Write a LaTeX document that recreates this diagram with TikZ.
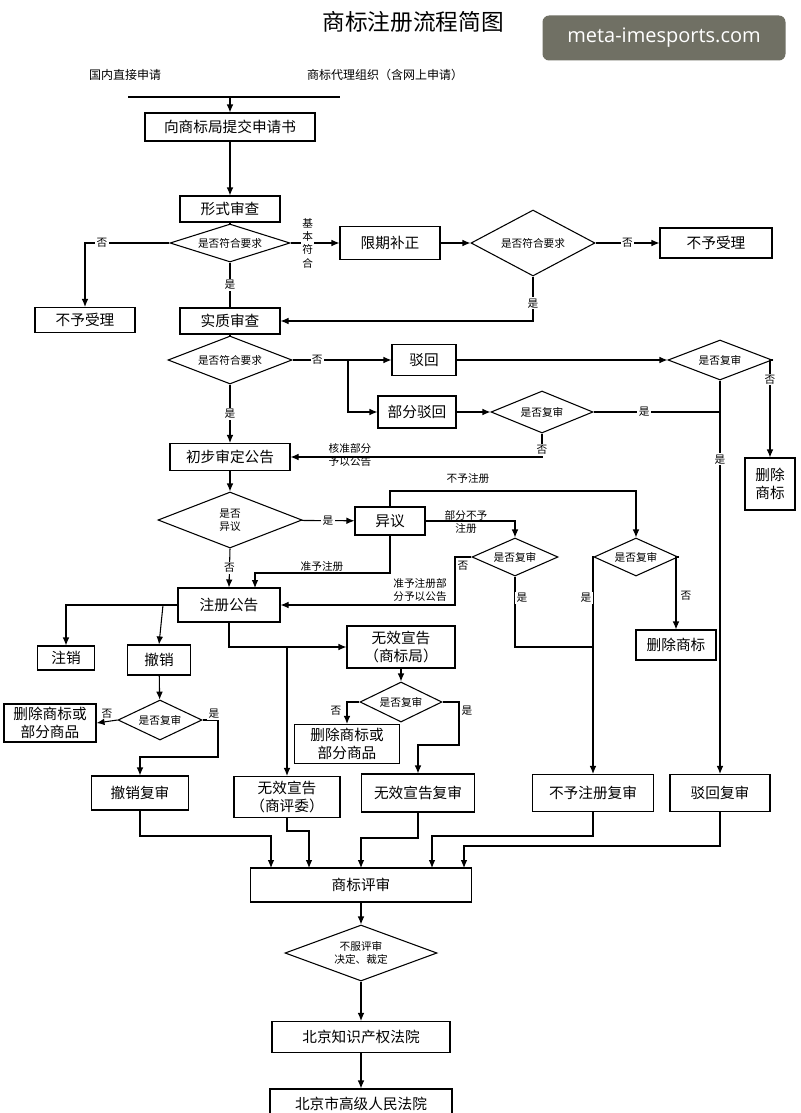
\documentclass[tikz,border=0pt]{standalone}
\usepackage{fontspec}
\setmainfont{Noto Sans CJK SC}
\newfontfamily\wmfont{Open Sans}
\usetikzlibrary{shapes.geometric,arrows.meta}
\newcommand\bx[6]{\node[box,minimum width=#4*0.75pt,minimum height=#5*0.75pt] (#1) at (#2,#3) {#6};}
\newcommand\dm[6]{\node[dia,minimum width=#4*0.75pt,minimum height=#5*0.75pt] (#1) at (#2,#3) {}; \node[dtxt] at (#1) {#6};}
\begin{document}
\begin{tikzpicture}[x=0.75pt,y=-0.75pt,
 box/.style={draw,thick,rectangle,inner sep=1pt,font=\fontsize{11}{13}\selectfont,align=center},
 dia/.style={draw,thick,diamond,inner sep=0pt},
 dtxt/.style={font=\fontsize{8}{10}\selectfont,align=center,inner sep=0pt},
 lb/.style={font=\fontsize{8}{10}\selectfont,fill=white,inner sep=1pt,align=center},
 lbn/.style={font=\fontsize{8}{10}\selectfont,inner sep=0pt,align=center},
 ar/.style={thick,-{Latex[length=6pt,width=5pt]}},
 ln/.style={thick}]
\useasboundingbox (0,0) rectangle (800,1113);
\fill[white] (0,0) rectangle (800,1113);
% title & watermark
\node[font=\fontsize{17}{19}\selectfont] (title) at (413,22) {商标注册流程简图};
\node[fill={rgb,255:red,112;green,112;blue,100},rounded corners=5pt,text=white,font=\wmfont\fontsize{15}{17}\selectfont,minimum width=243*0.75pt,minimum height=45*0.75pt] (wm) at (664,38) {meta-imesports.com};
\node[lbn,font=\fontsize{9}{11}\selectfont] (s1) at (125,75) {国内直接申请};
\node[lbn,font=\fontsize{9}{11}\selectfont] (s2) at (385,75) {商标代理组织（含网上申请）};
\coordinate (L1) at (128,97); \coordinate (L2) at (340,97); \coordinate (J) at (230,97);
\draw[ln] (L1) -- (L2);
% nodes
\bx{b1}{230}{127}{170}{28}{向商标局提交申请书}
\bx{b2}{230}{209}{100}{26}{形式审查}
\dm{d1}{230}{243}{120}{38}{是否符合要求}
\bx{bu1}{85}{320}{100}{25}{不予受理}
\bx{b3}{230}{321}{100}{26}{实质审查}
\bx{b4}{390}{243}{100}{33}{限期补正}
\dm{d2}{533}{243}{124}{66}{是否符合要求}
\bx{bu2}{716}{243}{112}{30}{不予受理}
\dm{d3}{230}{360}{124}{48}{是否符合要求}
\bx{b5}{424}{360}{64}{31}{驳回}
\bx{b6}{417}{412}{78}{32}{部分驳回}
\dm{d4}{720}{360}{104}{40}{是否复审}
\dm{d5}{542}{412}{102}{42}{是否复审}
\bx{del1}{770}{484}{50}{52}{删除\\商标}
\bx{b7}{230}{457}{120}{27}{初步审定公告}
\dm{d6}{230}{520}{144}{56}{是否\\异议}
\bx{b8}{390}{521}{70}{28}{异议}
\dm{d7}{515}{557}{86}{38}{是否复审}
\dm{d8}{636}{557}{84}{38}{是否复审}
\bx{b9}{229}{605}{102}{34}{注册公告}
\bx{del2}{676}{645}{80}{30}{删除商标}
\bx{zx}{66}{658}{57}{24}{注销}
\bx{cx}{159}{660}{63}{30}{撤销}
\bx{wx1}{401}{647}{108}{42}{无效宣告\\（商标局）}
\dm{d9}{160}{720}{84}{40}{是否复审}
\bx{del3}{50}{723}{92}{38}{删除商标或\\部分商品}
\dm{d10}{401}{702}{82}{40}{是否复审}
\bx{del4}{347}{744}{105}{39}{删除商标或\\部分商品}
\bx{cxf}{140}{793}{97}{34}{撤销复审}
\bx{wx2}{287}{797}{106}{41}{无效宣告\\（商评委）}
\bx{wxf}{418}{793}{113}{38}{无效宣告复审}
\bx{bnr}{593}{793}{121}{37}{不予注册复审}
\bx{br}{720}{793}{100}{37}{驳回复审}
\bx{ps}{361}{885}{221}{34}{商标评审}
\dm{d11}{361}{953}{152}{56}{不服评审\\决定、裁定}
\bx{c1}{361}{1037}{178}{31}{北京知识产权法院}
\bx{c2}{361}{1104}{182}{30}{北京市高级人民法院}
% connectors
\draw[ar] (J) -- (b1.north);
\draw[ar] (b1) -- (b2);
\draw[ln] (b2) -- (d1);
\draw[ar] (d1.west) -| (bu1.north) node[lb,pos=0.4] {否};
\draw[ln] (d1.south) -- (b3.north) node[lb,midway] {是};
\draw[ar] (d1.east) -- (b4.west) node[lb,pos=0.35] {基\\本\\符\\合};
\draw[ar] (b4) -- (d2);
\draw[ar] (d2) -- (bu2) node[lb,midway] {否};
\draw[ar] (d2.south) |- (b3.east) node[lb,pos=0.3] {是};
\draw[ln] (b3) -- (d3);
\draw[ar] (d3.east) -- (b5.west) node[lb,pos=0.25] {否};
\draw[ar] (348,360) |- (b6.west);
\draw[ar] (b5) -- (d4);
\draw[ar] (b6) -- (d5);
\draw[ln] (d5.east) -- (720,412) node[lb,pos=0.4] {是};
\draw[ar] (d4.south) -- (br.north) node[lb,pos=0.2] {是};
\draw[ar] (d4.east) -| (del1.north) node[lb,pos=0.6] {否};
\draw[ar] (d5.south) |- (b7.east) node[lb,pos=0.35] {否};
\node[lbn] (t1) at (350,455) {核准部分\\予以公告};
\draw[ar] (d3.south) -- (b7.north) node[lb,midway] {是};
\draw[ar] (b7) -- (d6);
\draw[ar] (d6) -- (b8) node[lb,midway] {是};
\draw[ar] (d6.south) -- (b9.north) node[lb,midway] {否};
\draw[ar] (b8.north) |- (636,491) -- (d8.north);
\node[lbn] (t2) at (468,478) {不予注册};
\draw[ar] (b8.east) -| (d7.north);
\node[lbn] (t3) at (466,522) {部分不予\\注册};
\draw[ar] (b8.south) |- (255,573) -- (255,588);
\node[lbn] (t4) at (322,566) {准予注册};
\draw[ar] (d7.west) -- (455,557) |- (b9.east);
\node[lbn] (t5) at (463,566) {否};
\node[lbn] (t6) at (420,590) {准予注册部\\分予以公告};
\draw[ln] (d7.south) |- (593,647);
\node[lb] (t7) at (522,598) {是};
\draw[ar] (d8.west) -| (bnr.north);
\node[lb] (t8) at (586,598) {是};
\draw[ar] (d8.east) -| (del2.north);
\node[lb] (t9) at (686,596) {否};
\draw[ar] (b9.west) -| (zx.north);
\draw[ar] (163,605) -- (cx.north);
\draw[ar] (b9.south) |- (wx1.west);
\draw[ar] (287,647) -- (wx2.north);
\draw[ar] (cx) -- (d9);
\draw[ar] (d9.west) -- (del3.east) node[lbn,pos=0.5,above=2pt] {否};
\draw[ar] (d9.east) -- (218,720) |- (140,757) -- (cxf.north);
\node[lb] (t10) at (214,714) {是};
\draw[ar] (wx1) -- (d10);
\draw[ar] (d10.west) -| (del4.north);
\node[lb] (t11) at (336,711) {否};
\draw[ar] (d10.east) -- (459,702) |- (418,745) -- (wxf.north);
\node[lb] (t12) at (467,711) {是};
\draw[ar] (cxf.south) |- (271,836) -- (271,868);
\draw[ar] (wx2.south) |- (309,831) -- (309,868);
\draw[ar] (wxf.south) |- (361,838) -- (361,868);
\draw[ar] (bnr.south) |- (432,836) -- (432,868);
\draw[ar] (br.south) |- (464,846) -- (464,868);
\draw[ar] (ps) -- (d11);
\draw[ar] (d11) -- (c1);
\draw[ar] (c1) -- (c2);
\end{tikzpicture}
\end{document}
